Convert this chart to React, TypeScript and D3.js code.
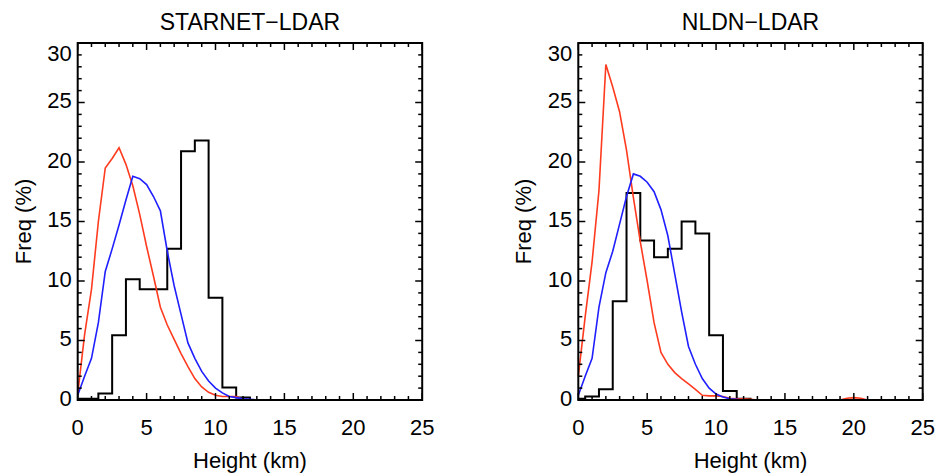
import * as d3 from 'd3';

// height bins (km) for the black histograms
const BINS = [0, 1, 2, 3, 4, 5, 6, 7, 8, 9, 10, 11, 12, 13, 14, 15, 16, 17, 18, 19, 20, 21, 22, 23, 24];

// half-km grid for the red / blue curves
const HALF = [
  0, 0.5, 1, 1.5, 2, 2.5, 3, 3.5, 4, 4.5, 5, 5.5, 6, 6.5, 7, 7.5, 8, 8.5, 9, 9.5,
  10, 10.5, 11, 11.5, 12, 12.5, 13, 13.5, 14, 14.5, 15, 15.5, 16, 16.5, 17, 17.5,
  18, 18.5, 19, 19.5, 20, 20.5, 21, 21.5, 22, 22.5, 23, 23.5, 24,
];

const X_TICKS = [0, 5, 10, 15, 20, 25];
const Y_TICKS = [0, 5, 10, 15, 20, 25, 30];

// STARNET-LDAR
const starnetBlack = [0.1, 0.1, 0.55, 5.45, 10.15, 9.3, 9.3, 12.7, 20.9, 21.8, 8.6, 1.05, 0.2, 0, 0, 0, 0, 0, 0, 0, 0, 0, 0, 0, 0];
const starnetRed = [
  0.5, 5.5, 9.3, 15.0, 19.5, 20.3, 21.2, 19.8, 18.0, 15.6, 12.9, 10.4, 7.8, 6.3, 5.1, 3.9, 2.8, 1.8, 1.1, 0.65,
  0.4, 0.3, 0.3, 0.3, 0.05, 0, 0, 0, 0, 0, 0, 0, 0, 0, 0, 0,
  0, 0, 0, 0, 0, 0, 0, 0, 0, 0, 0, 0, 0,
];
const starnetBlue = [
  0.4, 2.0, 3.5, 6.5, 10.8, 12.7, 14.7, 16.8, 18.8, 18.6, 18.1, 17.1, 15.9, 12.5, 9.6, 7.2, 4.8, 3.5, 2.4, 1.6,
  1.0, 0.6, 0.3, 0.2, 0.1, 0.05, 0, 0, 0, 0, 0, 0, 0, 0, 0, 0,
  0, 0, 0, 0, 0, 0, 0, 0, 0, 0, 0, 0, 0,
];

// NLDN-LDAR
const nldnBlack = [0.1, 0.3, 0.9, 8.3, 17.4, 13.4, 12.0, 12.7, 15.0, 14.0, 5.45, 0.75, 0.1, 0, 0, 0, 0, 0, 0, 0, 0, 0, 0, 0, 0];
const nldnRed = [
  2.0, 7.0, 11.6, 17.6, 28.2, 26.3, 24.2, 21.0, 17.0, 13.3, 10.0, 6.5, 4.0, 3.0, 2.3, 1.8, 1.35, 0.9, 0.4, 0.35,
  0.35, 0.3, 0.15, 0.1, 0.1, 0.05, 0, 0, 0, 0, 0, 0, 0, 0, 0, 0,
  0, 0, 0, 0.15, 0.2, 0.15, 0, 0, 0, 0, 0, 0, 0,
];
const nldnBlue = [
  0.4, 2.0, 3.5, 7.8, 10.7, 12.5, 14.8, 17.1, 19.0, 18.8, 18.3, 17.5, 16.0, 13.8, 10.6, 7.4, 4.5, 3.0, 1.8, 1.0,
  0.5, 0.25, 0.1, 0.05, 0, 0, 0, 0, 0, 0, 0, 0, 0, 0, 0, 0,
  0, 0, 0, 0, 0, 0, 0, 0, 0, 0, 0, 0, 0,
];

const FONT = '"Liberation Sans", Arial, Helvetica, sans-serif';
const RED = '#ff3b1f';
const BLUE = '#1f1fff';

const TOP = 43;
const BOTTOM = 400;

function Panel({ left, right, title, black, red, blue }: {
  left: number; right: number; title: string;
  black: number[]; red: number[]; blue: number[];
}) {
  const x = d3.scaleLinear().domain([0, 25]).range([left, right]);
  const y = d3.scaleLinear().domain([0, 30]).range([BOTTOM, TOP]);

  const step = d3.line<number>()
    .x((_, i) => x(BINS[i]))
    .y(d => y(d))
    .curve(d3.curveStep);
  const curve = d3.line<number>()
    .x((_, i) => x(HALF[i]))
    .y(d => y(d));

  const xMinor = d3.range(0, 26, 1);
  const yMinor = d3.range(0, 31, 1);
  const cx = (left + right) / 2;
  const cy = (TOP + BOTTOM) / 2;

  return (
    <g>
      <text x={cx} y={30} textAnchor="middle" fontSize={23} fontFamily={FONT}>{title}</text>

      <path d={step(black) ?? ''} fill="none" stroke="#000" strokeWidth={2} />
      <path d={curve(red) ?? ''} fill="none" stroke={RED} strokeWidth={1.6} />
      <path d={curve(blue) ?? ''} fill="none" stroke={BLUE} strokeWidth={1.6} />

      {/* ticks on all four sides, pointing in */}
      {xMinor.map(v => {
        const len = v % 5 === 0 ? 7 : 4;
        return (
          <g key={'x' + v} stroke="#000" strokeWidth={1.5}>
            <line x1={x(v)} x2={x(v)} y1={BOTTOM} y2={BOTTOM - len} />
            <line x1={x(v)} x2={x(v)} y1={TOP} y2={TOP + len} />
          </g>
        );
      })}
      {yMinor.map(v => {
        const len = v % 5 === 0 ? 7 : 4;
        return (
          <g key={'y' + v} stroke="#000" strokeWidth={1.5}>
            <line x1={left} x2={left + len} y1={y(v)} y2={y(v)} />
            <line x1={right} x2={right - len} y1={y(v)} y2={y(v)} />
          </g>
        );
      })}
      <rect x={left} y={TOP} width={right - left} height={BOTTOM - TOP} fill="none" stroke="#000" strokeWidth={2} />

      {X_TICKS.map(v => (
        <text key={'xl' + v} x={x(v)} y={435} textAnchor="middle" fontSize={22} fontFamily={FONT}>{v}</text>
      ))}
      {Y_TICKS.map(v => (
        <text key={'yl' + v} x={left - 6} y={Math.max(y(v) - 2, TOP + 10)} dy="0.36em" textAnchor="end" fontSize={22} fontFamily={FONT}>{v}</text>
      ))}

      <text x={cx} y={468} textAnchor="middle" fontSize={22} fontFamily={FONT}>Height (km)</text>
      <text transform={`translate(${left - 47},${cy}) rotate(-90)`} textAnchor="middle" fontSize={22} fontFamily={FONT}>Freq (%)</text>
    </g>
  );
}

export default function App() {
  return (
    <svg width={936} height={473} style={{ position: 'absolute', left: 0, top: 0, background: '#fff' }}>
      <rect width={936} height={473} fill="#fff" />
      <Panel left={77.7} right={422.2} title="STARNET−LDAR" black={starnetBlack} red={starnetRed} blue={starnetBlue} />
      <Panel left={578.3} right={922.7} title="NLDN−LDAR" black={nldnBlack} red={nldnRed} blue={nldnBlue} />
    </svg>
  );
}
